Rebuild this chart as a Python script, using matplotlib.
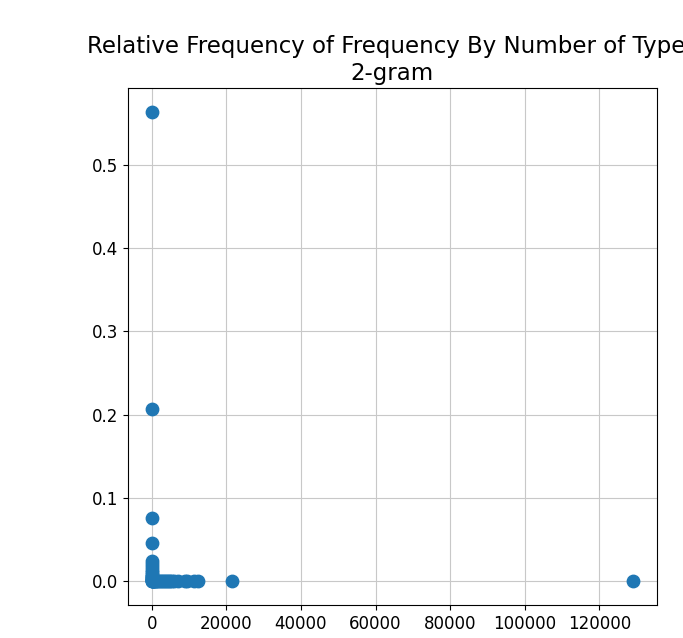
import matplotlib.pyplot as plt

# frequency of a 2-gram -> share of 2-gram types with that frequency
freq = [1, 2, 3, 4, 5, 6, 7, 8, 9, 10, 12, 14, 16, 20, 25, 30, 40, 50, 70, 100,
        150, 200, 300, 400, 500, 700, 900, 1200, 1500, 1800, 2200, 2600, 3000,
        3400, 3800, 4200, 4600, 5000, 5400, 6000, 7000, 8800, 9500, 11200,
        12500, 21600, 129000]
rel = [0.564, 0.207, 0.076, 0.046, 0.025, 0.021, 0.017, 0.014, 0.011, 0.009,
       0.007, 0.006, 0.005, 0.004, 0.003, 0.0025, 0.002, 0.0015, 0.001, 0.0008,
       0.0006, 0.0005, 0.0004, 0.0003, 0.0002, 0.0002, 0.0001, 0.0001, 0.0001,
       0.00008, 0.00006, 0.00005, 0.00005, 0.00004, 0.00004, 0.00003, 0.00003,
       0.00003, 0.00002, 0.00002, 0.00002, 0.00001, 0.00001, 0.00001, 0.00001,
       0.00001, 0.00001]

fig = plt.figure(figsize=(6.83, 6.38), dpi=100)
ax = fig.add_axes([0.187, 0.052, 0.775, 0.810])
ax.scatter(freq, rel, s=80, color='#1f77b4', zorder=3)
ax.grid(True, color='#c8c8c8')
ax.set_axisbelow(True)
ax.tick_params(labelsize=12)
ax.set_title('Relative Frequency of Frequency By Number of Types\n2-gram', fontsize=16.5)
fig.savefig('out.png', dpi=100)
